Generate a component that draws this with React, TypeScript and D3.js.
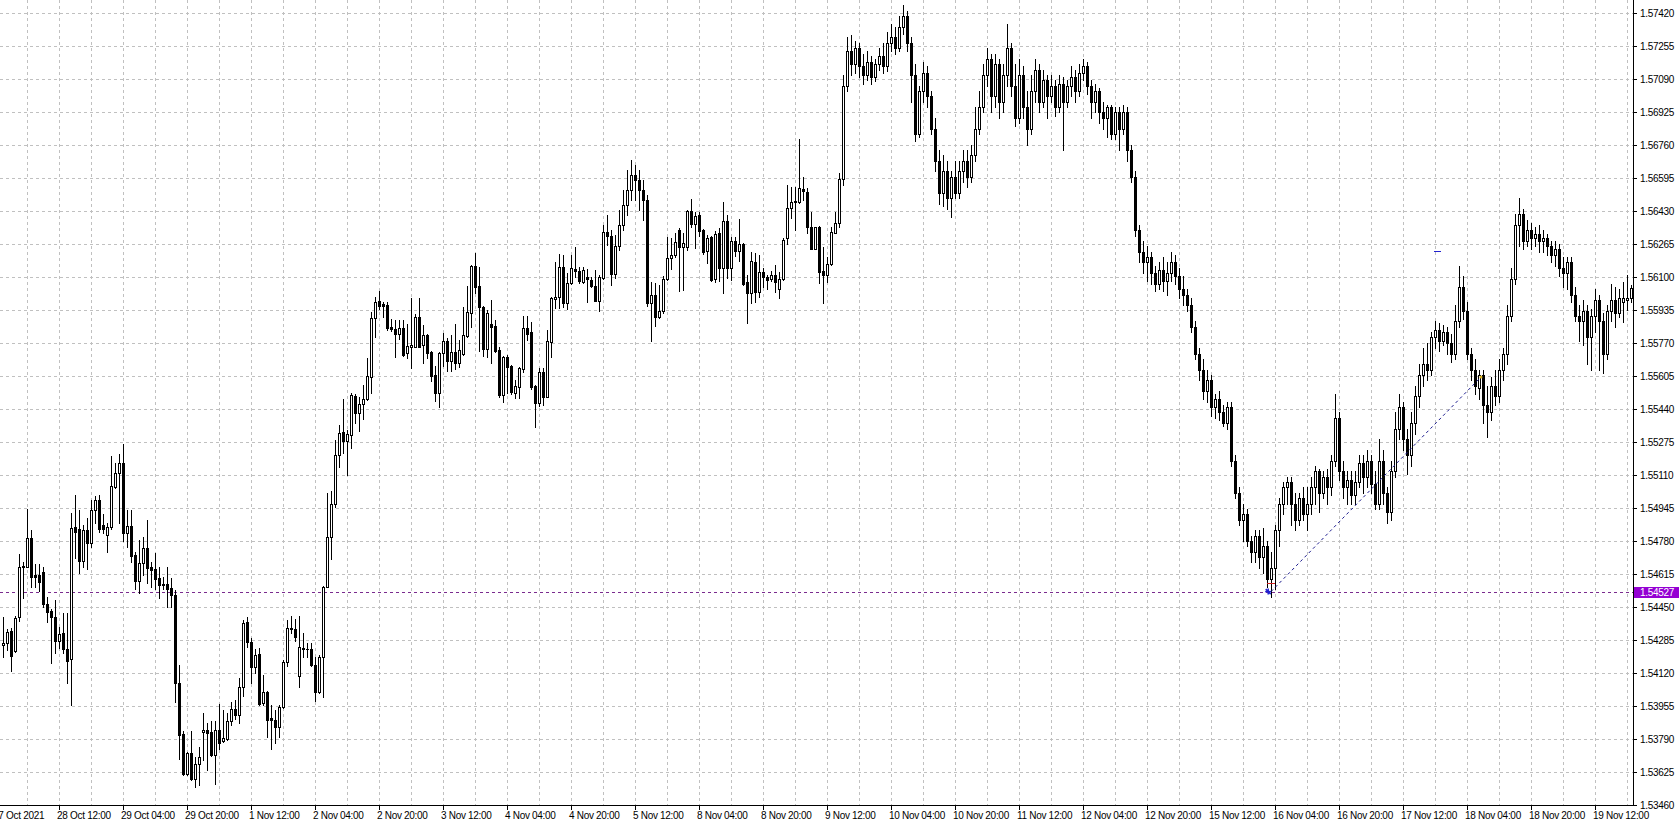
import React from "react";
import * as d3 from "d3";

// ---- values (H1 bars, 27 Oct – 19 Nov 2021) ----
// each bar: [open, high, low, close]
const bars27to29Oct: number[][] = [
  [1.54260, 1.54402, 1.54202, 1.54268], [1.54268, 1.54338, 1.54235, 1.54327], [1.54330, 1.54343, 1.54132, 1.54207],
  [1.54230, 1.54405, 1.54227, 1.54393], [1.54398, 1.54713, 1.54382, 1.54648], [1.54655, 1.54677, 1.54493, 1.54648],
  [1.54652, 1.54940, 1.54648, 1.54793], [1.54793, 1.54835, 1.54548, 1.54602], [1.54610, 1.54663, 1.54552, 1.54602],
  [1.54610, 1.54665, 1.54530, 1.54577], [1.54627, 1.54652, 1.54452, 1.54465], [1.54465, 1.54502, 1.54377, 1.54427],
  [1.54430, 1.54440, 1.54172, 1.54398], [1.54402, 1.54485, 1.54218, 1.54282], [1.54282, 1.54352, 1.54243, 1.54315],
  [1.54322, 1.54418, 1.54218, 1.54238], [1.54240, 1.54418, 1.54068, 1.54182], [1.54188, 1.54918, 1.53958, 1.54843],
  [1.54848, 1.55010, 1.54693, 1.54827], [1.54838, 1.54935, 1.54622, 1.54682], [1.54682, 1.54860, 1.54652, 1.54835],
  [1.54835, 1.54893, 1.54638, 1.54768], [1.54768, 1.54985, 1.54748, 1.54935], [1.54935, 1.55005, 1.54872, 1.54985],
  [1.54985, 1.55010, 1.54827, 1.54838], [1.54858, 1.54915, 1.54818, 1.54838], [1.54808, 1.54868, 1.54727, 1.54848],
  [1.54848, 1.55205, 1.54842, 1.55055], [1.55052, 1.55168, 1.55043, 1.55122], [1.55122, 1.55213, 1.54872, 1.55168],
  [1.55168, 1.55265, 1.54782, 1.54822], [1.54822, 1.54935, 1.54752, 1.54855], [1.54855, 1.54935, 1.54677, 1.54705],
  [1.54710, 1.54727, 1.54538, 1.54582], [1.54582, 1.54785, 1.54518, 1.54672], [1.54668, 1.54798, 1.54610, 1.54743],
  [1.54743, 1.54885, 1.54568, 1.54643], [1.54648, 1.54677, 1.54552, 1.54635], [1.54638, 1.54722, 1.54538, 1.54592],
  [1.54593, 1.54652, 1.54493, 1.54560], [1.54565, 1.54602, 1.54538, 1.54560], [1.54565, 1.54652, 1.54448, 1.54542],
  [1.54545, 1.54595, 1.54450, 1.54510], [1.54510, 1.54535, 1.53975, 1.54070],
];

const bars29Octto2Nov: number[][] = [
  [1.54068, 1.54160, 1.53688, 1.53810], [1.53815, 1.53832, 1.53610, 1.53615], [1.53615, 1.53727, 1.53610, 1.53718],
  [1.53718, 1.53832, 1.53585, 1.53588], [1.53588, 1.53702, 1.53548, 1.53665], [1.53665, 1.53752, 1.53560, 1.53698],
  [1.53823, 1.53918, 1.53685, 1.53835], [1.53835, 1.53872, 1.53635, 1.53818], [1.53827, 1.53882, 1.53705, 1.53710],
  [1.53710, 1.53882, 1.53565, 1.53835], [1.53835, 1.53965, 1.53738, 1.53772], [1.53782, 1.53935, 1.53777, 1.53793],
  [1.53788, 1.53922, 1.53785, 1.53882], [1.53882, 1.53977, 1.53860, 1.53938], [1.53938, 1.53985, 1.53888, 1.53910],
  [1.53910, 1.54093, 1.53872, 1.54048], [1.54048, 1.54385, 1.54005, 1.54368], [1.54377, 1.54398, 1.54252, 1.54277],
  [1.54277, 1.54293, 1.54068, 1.54148], [1.54148, 1.54238, 1.54122, 1.54210], [1.54215, 1.54243, 1.53960, 1.53965],
  [1.53968, 1.54110, 1.53960, 1.54023], [1.54023, 1.54032, 1.53802, 1.53885], [1.53893, 1.53960, 1.53738, 1.53885],
  [1.53885, 1.53935, 1.53768, 1.53848], [1.53848, 1.53960, 1.53802, 1.53948], [1.53948, 1.54185, 1.53943, 1.54177],
  [1.54177, 1.54385, 1.54155, 1.54343], [1.54340, 1.54405, 1.54318, 1.54343], [1.54338, 1.54388, 1.54282, 1.54298],
  [1.54105, 1.54405, 1.54048, 1.54248], [1.54238, 1.54318, 1.54202, 1.54243], [1.54240, 1.54268, 1.54198, 1.54238],
  [1.54238, 1.54268, 1.54155, 1.54160], [1.54160, 1.54202, 1.53982, 1.54027], [1.54027, 1.54210, 1.54018, 1.54202],
  [1.54202, 1.54555, 1.53998, 1.54552], [1.54552, 1.55018, 1.54548, 1.54802], [1.54802, 1.55032, 1.54688, 1.54965],
  [1.54965, 1.55285, 1.54950, 1.55210], [1.55210, 1.55360, 1.55150, 1.55320],
];

const bars2to4Nov: number[][] = [
  [1.55327, 1.55488, 1.55222, 1.55282], [1.55282, 1.55335, 1.55110, 1.55315], [1.55310, 1.55518, 1.55243, 1.55510],
  [1.55507, 1.55515, 1.55368, 1.55418], [1.55418, 1.55502, 1.55332, 1.55465], [1.55465, 1.55560, 1.55388, 1.55488],
  [1.55488, 1.55693, 1.55485, 1.55605], [1.55598, 1.55927, 1.55522, 1.55893], [1.55893, 1.56002, 1.55798, 1.55977],
  [1.55980, 1.56032, 1.55938, 1.55957], [1.55965, 1.55977, 1.55902, 1.55957], [1.55960, 1.55977, 1.55835, 1.55847],
  [1.55848, 1.55888, 1.55832, 1.55842], [1.55840, 1.55885, 1.55702, 1.55813], [1.55813, 1.55885, 1.55788, 1.55843],
  [1.55843, 1.55885, 1.55705, 1.55710], [1.55718, 1.55865, 1.55693, 1.55755], [1.55752, 1.55993, 1.55643, 1.55758],
  [1.55752, 1.55915, 1.55748, 1.55898], [1.55898, 1.55993, 1.55748, 1.55752], [1.55760, 1.55860, 1.55672, 1.55810],
  [1.55810, 1.55813, 1.55693, 1.55722], [1.55727, 1.55730, 1.55582, 1.55605], [1.55610, 1.55655, 1.55482, 1.55522],
  [1.55522, 1.55727, 1.55452, 1.55718], [1.55718, 1.55818, 1.55655, 1.55780], [1.55780, 1.55793, 1.55632, 1.55682],
  [1.55682, 1.55810, 1.55632, 1.55723], [1.55723, 1.55865, 1.55638, 1.55672], [1.55672, 1.55785, 1.55652, 1.55735],
  [1.55713, 1.55948, 1.55710, 1.55810], [1.55805, 1.56055, 1.55798, 1.55923], [1.55918, 1.56160, 1.55848, 1.56155],
  [1.56155, 1.56222, 1.56018, 1.56048], [1.56055, 1.56148, 1.55732, 1.55952], [1.55952, 1.55955, 1.55705, 1.55738],
  [1.55738, 1.55935, 1.55698, 1.55918], [1.55863, 1.55985, 1.55672, 1.55852], [1.55855, 1.55885, 1.55727, 1.55732],
  [1.55735, 1.55748, 1.55498, 1.55510], [1.55510, 1.55705, 1.55477, 1.55698], [1.55698, 1.55710, 1.55518, 1.55648],
  [1.55655, 1.55660, 1.55515, 1.55527],
];

const bars4to5Nov: number[][] = [
  [1.55522, 1.55585, 1.55493, 1.55555], [1.55552, 1.55652, 1.55493, 1.55647], [1.55638, 1.55905, 1.55627, 1.55843],
  [1.55843, 1.55905, 1.55785, 1.55815], [1.55827, 1.55877, 1.55538, 1.55548], [1.55555, 1.55560, 1.55348, 1.55472],
  [1.55472, 1.55643, 1.55455, 1.55623], [1.55623, 1.55643, 1.55460, 1.55502], [1.55502, 1.55835, 1.55498, 1.55780],
  [1.55773, 1.55998, 1.55702, 1.55993], [1.55992, 1.56177, 1.55943, 1.55998], [1.55998, 1.56215, 1.55943, 1.56148],
  [1.56148, 1.56210, 1.55952, 1.55968], [1.55972, 1.56118, 1.55938, 1.56068], [1.56068, 1.56210, 1.56065, 1.56143],
  [1.56140, 1.56252, 1.56102, 1.56130], [1.56130, 1.56148, 1.56072, 1.56082], [1.56077, 1.56148, 1.56072, 1.56135],
  [1.56098, 1.56138, 1.55977, 1.56088], [1.56085, 1.56102, 1.56048, 1.56055], [1.56055, 1.56135, 1.55982, 1.55982],
  [1.55982, 1.56110, 1.55932, 1.56098], [1.56093, 1.56360, 1.56088, 1.56325], [1.56325, 1.56410, 1.56260, 1.56305],
  [1.56305, 1.56335, 1.56060, 1.56115], [1.56115, 1.56310, 1.56095, 1.56255], [1.56255, 1.56435, 1.56235, 1.56360],
  [1.56360, 1.56535, 1.56335, 1.56460], [1.56460, 1.56635, 1.56410, 1.56535], [1.56535, 1.56685, 1.56485, 1.56610],
  [1.56610, 1.56660, 1.56485, 1.56585], [1.56585, 1.56635, 1.56435, 1.56535], [1.56535, 1.56585, 1.56385, 1.56485],
  [1.56485, 1.56510, 1.55955, 1.55970], [1.55972, 1.56077, 1.55782, 1.56010], [1.56010, 1.56068, 1.55855, 1.55898],
  [1.55898, 1.56060, 1.55893, 1.55932], [1.55932, 1.56105, 1.55918, 1.56088], [1.56088, 1.56302, 1.56085, 1.56193],
  [1.56193, 1.56293, 1.56138, 1.56210], [1.56210, 1.56318, 1.56202, 1.56277], [1.56335, 1.56345, 1.56032, 1.56250],
];

const bars8to9Nov: number[][] = [
  [1.56248, 1.56318, 1.56035, 1.56268], [1.56252, 1.56435, 1.56235, 1.56430], [1.56430, 1.56488, 1.56352, 1.56365],
  [1.56365, 1.56427, 1.56243, 1.56405], [1.56410, 1.56427, 1.56305, 1.56332], [1.56335, 1.56338, 1.56215, 1.56227],
  [1.56232, 1.56310, 1.56168, 1.56293], [1.56298, 1.56305, 1.56082, 1.56085], [1.56088, 1.56332, 1.56077, 1.56313],
  [1.56318, 1.56343, 1.56082, 1.56143], [1.56143, 1.56477, 1.56022, 1.56380], [1.56380, 1.56410, 1.56093, 1.56143],
  [1.56143, 1.56298, 1.56085, 1.56282], [1.56282, 1.56298, 1.56205, 1.56232], [1.56232, 1.56390, 1.56182, 1.56263],
  [1.56263, 1.56268, 1.56060, 1.56065], [1.56073, 1.56110, 1.55868, 1.56022], [1.56022, 1.56227, 1.55968, 1.56180],
  [1.56177, 1.56218, 1.55977, 1.56027], [1.56027, 1.56210, 1.56002, 1.56123], [1.56123, 1.56143, 1.56052, 1.56098],
  [1.56102, 1.56110, 1.56038, 1.56085], [1.56088, 1.56132, 1.56082, 1.56110], [1.56110, 1.56160, 1.56027, 1.56077],
  [1.56038, 1.56127, 1.55993, 1.56090], [1.56088, 1.56293, 1.56085, 1.56285], [1.56293, 1.56560, 1.56265, 1.56443],
  [1.56443, 1.56548, 1.56393, 1.56477], [1.56480, 1.56548, 1.56335, 1.56473], [1.56473, 1.56790, 1.56468, 1.56543],
  [1.56538, 1.56602, 1.56485, 1.56528], [1.56527, 1.56543, 1.56318, 1.56348], [1.56348, 1.56427, 1.56238, 1.56238],
  [1.56242, 1.56352, 1.56238, 1.56348], [1.56348, 1.56355, 1.56072, 1.56127], [1.56130, 1.56252, 1.55972, 1.56112],
  [1.56112, 1.56202, 1.56077, 1.56163], [1.56163, 1.56352, 1.56160, 1.56327], [1.56322, 1.56427, 1.56318, 1.56368],
  [1.56368, 1.56618, 1.56348, 1.56588], [1.56588, 1.57110, 1.56560, 1.57057],
];

const bars9to10Nov: number[][] = [
  [1.57057, 1.57298, 1.57030, 1.57228], [1.57228, 1.57308, 1.57110, 1.57164], [1.57164, 1.57281, 1.57121, 1.57244],
  [1.57244, 1.57271, 1.57099, 1.57153], [1.57153, 1.57217, 1.57067, 1.57110], [1.57110, 1.57228, 1.57083, 1.57174],
  [1.57174, 1.57206, 1.57067, 1.57099], [1.57099, 1.57190, 1.57078, 1.57164], [1.57164, 1.57244, 1.57137, 1.57206],
  [1.57206, 1.57271, 1.57121, 1.57153], [1.57153, 1.57324, 1.57131, 1.57271], [1.57271, 1.57367, 1.57228, 1.57298],
  [1.57298, 1.57351, 1.57217, 1.57244], [1.57244, 1.57405, 1.57228, 1.57351], [1.57351, 1.57458, 1.57314, 1.57405],
  [1.57405, 1.57431, 1.57228, 1.57271], [1.57271, 1.57298, 1.56976, 1.57110], [1.57110, 1.57164, 1.56778, 1.56815],
  [1.56815, 1.57057, 1.56799, 1.57030], [1.57030, 1.57174, 1.56976, 1.57121], [1.57121, 1.57153, 1.56949, 1.57003],
  [1.57003, 1.57030, 1.56815, 1.56842], [1.56842, 1.56896, 1.56628, 1.56682], [1.56682, 1.56736, 1.56467, 1.56521],
  [1.56521, 1.56708, 1.56457, 1.56628], [1.56628, 1.56682, 1.56440, 1.56494], [1.56494, 1.56628, 1.56398, 1.56601],
  [1.56601, 1.56682, 1.56494, 1.56521], [1.56521, 1.56682, 1.56494, 1.56628], [1.56628, 1.56736, 1.56574, 1.56682],
];

const bars10to11Nov: number[][] = [
  [1.56682, 1.56736, 1.56548, 1.56601], [1.56601, 1.56762, 1.56574, 1.56708], [1.56708, 1.56949, 1.56682, 1.56842],
  [1.56842, 1.57030, 1.56815, 1.56949], [1.56949, 1.57164, 1.56923, 1.57110], [1.57110, 1.57244, 1.57057, 1.57190],
  [1.57190, 1.57217, 1.56923, 1.57003], [1.57003, 1.57217, 1.56949, 1.57164], [1.57164, 1.57190, 1.56896, 1.56976],
  [1.56976, 1.57164, 1.56923, 1.57110], [1.57110, 1.57367, 1.57057, 1.57244], [1.57244, 1.57271, 1.57003, 1.57057],
  [1.57057, 1.57164, 1.56853, 1.56896], [1.56896, 1.57190, 1.56869, 1.57110], [1.57110, 1.57153, 1.56896, 1.56949],
  [1.56949, 1.57030, 1.56762, 1.56842], [1.56842, 1.57110, 1.56815, 1.57030], [1.57030, 1.57190, 1.56976, 1.57137],
  [1.57137, 1.57164, 1.56923, 1.56976], [1.56976, 1.57137, 1.56949, 1.57083], [1.57083, 1.57110, 1.56896, 1.57003],
  [1.57003, 1.57110, 1.56976, 1.57057], [1.57057, 1.57083, 1.56906, 1.56949], [1.56949, 1.57110, 1.56923, 1.57067],
  [1.57067, 1.57099, 1.56736, 1.56976], [1.56976, 1.57083, 1.56949, 1.57057], [1.57057, 1.57153, 1.57003, 1.57099],
  [1.57099, 1.57137, 1.56976, 1.57030], [1.57030, 1.57164, 1.57003, 1.57121], [1.57121, 1.57190, 1.57083, 1.57153],
];

const bars11to12Nov: number[][] = [
  [1.57153, 1.57174, 1.57013, 1.57057], [1.57057, 1.57083, 1.56896, 1.56976], [1.56976, 1.57067, 1.56923, 1.57030],
  [1.57030, 1.57046, 1.56869, 1.56923], [1.56923, 1.56976, 1.56842, 1.56896], [1.56896, 1.56960, 1.56799, 1.56949],
  [1.56949, 1.56960, 1.56789, 1.56815], [1.56815, 1.56949, 1.56789, 1.56923], [1.56923, 1.56949, 1.56736, 1.56842],
  [1.56842, 1.56960, 1.56815, 1.56923], [1.56923, 1.56949, 1.56682, 1.56736], [1.56736, 1.56762, 1.56574, 1.56601],
  [1.56601, 1.56628, 1.56307, 1.56333], [1.56333, 1.56360, 1.56173, 1.56226], [1.56226, 1.56280, 1.56119, 1.56173],
  [1.56173, 1.56253, 1.56081, 1.56199], [1.56199, 1.56226, 1.56065, 1.56119], [1.56119, 1.56157, 1.56028, 1.56065],
  [1.56065, 1.56173, 1.56039, 1.56135], [1.56135, 1.56199, 1.56028, 1.56081], [1.56081, 1.56173, 1.56012, 1.56119],
  [1.56119, 1.56226, 1.56081, 1.56173], [1.56173, 1.56210, 1.56065, 1.56103], [1.56103, 1.56146, 1.55996, 1.56039],
  [1.56039, 1.56103, 1.55958, 1.56012], [1.56012, 1.56039, 1.55932, 1.55958], [1.55958, 1.55996, 1.55825, 1.55851],
  [1.55851, 1.55878, 1.55691, 1.55717], [1.55717, 1.55744, 1.55584, 1.55637], [1.55637, 1.55691, 1.55492, 1.55530],
];

const bars15to16Nov: number[][] = [
  [1.55530, 1.55637, 1.55476, 1.55584], [1.55584, 1.55610, 1.55407, 1.55450], [1.55450, 1.55514, 1.55396, 1.55492],
  [1.55492, 1.55530, 1.55385, 1.55423], [1.55423, 1.55460, 1.55353, 1.55369], [1.55369, 1.55476, 1.55342, 1.55450],
  [1.55450, 1.55476, 1.55155, 1.55182], [1.55182, 1.55209, 1.54994, 1.55021], [1.55021, 1.55048, 1.54860, 1.54887],
  [1.54887, 1.54967, 1.54780, 1.54914], [1.54914, 1.54941, 1.54753, 1.54780], [1.54780, 1.54807, 1.54673, 1.54726],
  [1.54726, 1.54833, 1.54673, 1.54807], [1.54807, 1.54833, 1.54646, 1.54700], [1.54700, 1.54844, 1.54619, 1.54753],
  [1.54753, 1.54780, 1.54550, 1.54592], [1.54592, 1.54726, 1.54501, 1.54646], [1.54646, 1.54860, 1.54539, 1.54833],
  [1.54833, 1.54994, 1.54753, 1.54967], [1.54967, 1.55075, 1.54914, 1.55048], [1.55048, 1.55101, 1.54967, 1.55075],
  [1.55075, 1.55101, 1.54860, 1.54967], [1.54967, 1.55021, 1.54833, 1.54887], [1.54887, 1.55021, 1.54860, 1.54994],
  [1.54994, 1.55048, 1.54887, 1.54914], [1.54914, 1.55048, 1.54833, 1.54967], [1.54967, 1.55101, 1.54914, 1.55048],
  [1.55048, 1.55155, 1.54967, 1.55128], [1.55128, 1.55139, 1.54925, 1.55021], [1.55021, 1.55128, 1.54994, 1.55101],
  [1.55101, 1.55139, 1.54967, 1.55048], [1.55048, 1.55209, 1.55010, 1.55182], [1.55182, 1.55514, 1.55155, 1.55396],
  [1.55396, 1.55423, 1.55085, 1.55128], [1.55128, 1.55182, 1.54994, 1.55048], [1.55048, 1.55128, 1.54967, 1.55085],
  [1.55085, 1.55128, 1.54967, 1.55010], [1.55010, 1.55128, 1.54967, 1.55075], [1.55075, 1.55209, 1.55048, 1.55171],
  [1.55171, 1.55209, 1.55021, 1.55101],
];

const bars17to18Nov: number[][] = [
  [1.55101, 1.55235, 1.55048, 1.55182], [1.55182, 1.55209, 1.55021, 1.55064], [1.55064, 1.55128, 1.54941, 1.54967],
  [1.54967, 1.55289, 1.54941, 1.55182], [1.55182, 1.55235, 1.54967, 1.55021], [1.55021, 1.55048, 1.54871, 1.54925],
  [1.54925, 1.55182, 1.54887, 1.55128], [1.55128, 1.55423, 1.55101, 1.55342], [1.55342, 1.55514, 1.55289, 1.55450],
  [1.55450, 1.55476, 1.55235, 1.55289], [1.55289, 1.55342, 1.55117, 1.55209], [1.55209, 1.55423, 1.55155, 1.55369],
  [1.55369, 1.55557, 1.55316, 1.55503], [1.55503, 1.55664, 1.55450, 1.55610], [1.55610, 1.55744, 1.55557, 1.55664],
  [1.55664, 1.55771, 1.55584, 1.55637], [1.55637, 1.55825, 1.55610, 1.55798], [1.55798, 1.55878, 1.55744, 1.55835],
  [1.55835, 1.55868, 1.55728, 1.55782], [1.55782, 1.55862, 1.55760, 1.55825], [1.55825, 1.55851, 1.55717, 1.55771],
  [1.55771, 1.55814, 1.55674, 1.55717], [1.55717, 1.55958, 1.55691, 1.55878], [1.55878, 1.56157, 1.55851, 1.56049],
  [1.56049, 1.56103, 1.55889, 1.55932], [1.55932, 1.55974, 1.55691, 1.55717], [1.55717, 1.55744, 1.55584, 1.55637],
  [1.55637, 1.55691, 1.55514, 1.55557], [1.55546, 1.55637, 1.55492, 1.55610], [1.55610, 1.55637, 1.55369, 1.55460],
];

const bars18to19Nov: number[][] = [
  [1.55460, 1.55557, 1.55300, 1.55423], [1.55423, 1.55600, 1.55385, 1.55557], [1.55557, 1.55637, 1.55460, 1.55503],
  [1.55503, 1.55691, 1.55476, 1.55637], [1.55637, 1.55744, 1.55584, 1.55717], [1.55717, 1.55958, 1.55664, 1.55905],
  [1.55905, 1.56146, 1.55878, 1.56092], [1.56092, 1.56414, 1.56065, 1.56360], [1.56360, 1.56494, 1.56253, 1.56414],
  [1.56414, 1.56440, 1.56242, 1.56280], [1.56280, 1.56387, 1.56253, 1.56333], [1.56333, 1.56371, 1.56242, 1.56296],
  [1.56296, 1.56349, 1.56253, 1.56317], [1.56317, 1.56360, 1.56226, 1.56280], [1.56280, 1.56333, 1.56226, 1.56296],
  [1.56296, 1.56317, 1.56210, 1.56253], [1.56253, 1.56280, 1.56173, 1.56210], [1.56210, 1.56280, 1.56157, 1.56242],
  [1.56242, 1.56264, 1.56103, 1.56146], [1.56146, 1.56199, 1.56049, 1.56119], [1.56119, 1.56199, 1.56039, 1.56173],
  [1.56173, 1.56199, 1.55974, 1.56012], [1.56012, 1.56049, 1.55878, 1.55905], [1.55905, 1.55958, 1.55782, 1.55878],
  [1.55878, 1.55985, 1.55760, 1.55932], [1.55932, 1.55958, 1.55664, 1.55798], [1.55798, 1.55942, 1.55637, 1.55905],
  [1.55905, 1.56039, 1.55825, 1.55985], [1.55985, 1.56012, 1.55637, 1.55878], [1.55878, 1.55921, 1.55621, 1.55717],
  [1.55717, 1.55958, 1.55691, 1.55932], [1.55932, 1.56065, 1.55878, 1.55985], [1.55985, 1.56049, 1.55851, 1.55921],
  [1.55921, 1.56039, 1.55899, 1.55996], [1.55977, 1.56077, 1.55877, 1.55995], [1.55985, 1.56110, 1.55935, 1.55997],
  [1.55995, 1.56060, 1.55975, 1.56045],
];

const priceTicks = [
  1.5742, 1.57255, 1.5709, 1.56925, 1.5676, 1.56595, 1.5643, 1.56265, 1.561, 1.55935, 1.5577, 1.55605, 1.5544,
  1.55275, 1.5511, 1.54945, 1.5478, 1.54615, 1.5445, 1.54285, 1.5412, 1.53955, 1.5379, 1.53625, 1.5346,
];

const timeLabels = [
  "27 Oct 2021", "28 Oct 12:00", "29 Oct 04:00", "29 Oct 20:00", "1 Nov 12:00", "2 Nov 04:00", "2 Nov 20:00",
  "3 Nov 12:00", "4 Nov 04:00", "4 Nov 20:00", "5 Nov 12:00", "8 Nov 04:00", "8 Nov 20:00", "9 Nov 12:00",
  "10 Nov 04:00", "10 Nov 20:00", "11 Nov 12:00", "12 Nov 04:00", "12 Nov 20:00", "15 Nov 12:00",
  "16 Nov 04:00", "16 Nov 20:00", "17 Nov 12:00", "18 Nov 04:00", "18 Nov 20:00", "19 Nov 12:00",
];
const firstLabelBar = -2;
const barsPerLabel = 16;
const barsPerGrid = 8;

const bidPrice = 1.54527;
const trendStart = { bar: 317, price: 1.54527 };
const trendEnd = { bar: 369.5, price: 1.556 };
const arrowMark = { bar: 316.3, price: 1.54527 };
const stopMark = { bar: 317, price: 1.54571 };
const orderMark = { bar: 358.5, price: 1.56232 };

const allBars = [
  ...bars27to29Oct, ...bars29Octto2Nov, ...bars2to4Nov, ...bars4to5Nov, ...bars8to9Nov,
  ...bars9to10Nov, ...bars10to11Nov, ...bars11to12Nov, ...bars15to16Nov, ...bars17to18Nov, ...bars18to19Nov,
];
const totalBars = allBars.length;

const W = 1679;
const H = 826;
const plotRight = 1633;
const plotBottom = 805;
const FONT = "Tahoma, 'Liberation Sans', Arial, sans-serif";

export default function App() {
  const x = d3.scaleLinear().domain([0, 407]).range([3, 3 + 4 * 407]);
  const y = d3.scaleLinear().domain([1.5346, 1.5742]).range([plotBottom, 13]);
  const py = (p: number) => Math.round(y(p));

  const gridBars: number[] = [];
  for (let b = firstLabelBar; b < totalBars; b += barsPerGrid) gridBars.push(b);

  const ax = x(arrowMark.bar), ay = y(arrowMark.price);

  return (
    <div style={{ position: "absolute", left: 0, top: 0, width: W, height: H, background: "#fff" }}>
      <svg width={W} height={H} style={{ display: "block" }} shapeRendering="crispEdges">
        <rect x={0} y={0} width={W} height={H} fill="#ffffff" />
        <g>
          {priceTicks.map((p, k) => (
            <line key={"hg" + k} x1={0} x2={plotRight} y1={py(p) + 0.5} y2={py(p) + 0.5}
              stroke="#c0c0c0" strokeDasharray="3,3" />
          ))}
          {gridBars.map((b) => (
            <line key={"vg" + b} x1={Math.round(x(b)) + 0.5} x2={Math.round(x(b)) + 0.5} y1={0} y2={plotBottom}
              stroke="#c0c0c0" strokeDasharray="3,3" />
          ))}
        </g>
        {/* bid line */}
        <line x1={0} x2={plotRight} y1={py(bidPrice) + 0.5} y2={py(bidPrice) + 0.5} stroke="#7a2b8e"
          strokeDasharray="3,3" />
        {/* candles */}
        <g>
          {allBars.map((b, i) => {
            const [o, h, l, c] = b;
            const cx = Math.round(x(i));
            const yo = py(o), yc = py(c), yh = py(h), yl = py(l);
            const top = Math.min(yo, yc), bot = Math.max(yo, yc);
            const bull = c >= o;
            return (
              <g key={i}>
                <line x1={cx + 0.5} x2={cx + 0.5} y1={yh} y2={yl + 1} stroke="#000" />
                {bot - top < 1 ? (
                  <line x1={cx - 1} x2={cx + 2} y1={top + 0.5} y2={top + 0.5} stroke="#000" />
                ) : (
                  <rect x={cx - 0.5} y={top + 0.5} width={2} height={bot - top} fill={bull ? "#fff" : "#000"}
                    stroke="#000" />
                )}
              </g>
            );
          })}
        </g>
        {/* trend line and trade marks */}
        <line x1={x(trendStart.bar)} y1={y(trendStart.price)} x2={x(trendEnd.bar)} y2={y(trendEnd.price)}
          stroke="#1c1c8f" strokeDasharray="3,3" shapeRendering="auto" />
        <line x1={x(stopMark.bar) - 4} x2={x(stopMark.bar) + 4} y1={py(stopMark.price) + 0.5}
          y2={py(stopMark.price) + 0.5} stroke="#d02020" />
        <g stroke="#2020d0" strokeWidth={1.5} shapeRendering="auto">
          <line x1={ax - 3} x2={ax + 3} y1={ay} y2={ay} />
          <line x1={ax} x2={ax} y1={ay - 3} y2={ay + 3} />
          <line x1={ax - 2.5} x2={ax + 2.5} y1={ay - 2.5} y2={ay + 2.5} />
        </g>
        <line x1={x(orderMark.bar) - 3} x2={x(orderMark.bar) + 4} y1={py(orderMark.price) + 0.5}
          y2={py(orderMark.price) + 0.5} stroke="#2020d0" />
        <circle cx={x(trendEnd.bar)} cy={y(trendEnd.price)} r={1.5} fill="#d8b020" shapeRendering="auto" />
        {/* axes frame */}
        <line x1={plotRight + 0.5} x2={plotRight + 0.5} y1={0} y2={plotBottom + 1} stroke="#000" />
        <line x1={0} x2={plotRight + 1} y1={plotBottom + 0.5} y2={plotBottom + 0.5} stroke="#000" />
        {priceTicks.map((p, k) => (
          <g key={"pt" + k}>
            <line x1={plotRight + 1} x2={plotRight + 4} y1={py(p) + 0.5} y2={py(p) + 0.5} stroke="#000" />
            <text x={1640} y={py(p) + 4} fontFamily={FONT} fontSize={10} letterSpacing={-0.3} fill="#000">
              {p.toFixed(5)}
            </text>
          </g>
        ))}
        {timeLabels.map((t, k) => {
          const b = firstLabelBar + k * barsPerLabel;
          const tx = Math.round(x(b));
          return (
            <g key={"tl" + k}>
              <line x1={tx + 0.5} x2={tx + 0.5} y1={plotBottom + 1} y2={plotBottom + 5} stroke="#000" />
              <text x={tx - 2} y={819} fontFamily={FONT} fontSize={10} letterSpacing={-0.3} fill="#000">
                {t}
              </text>
            </g>
          );
        })}
        {/* bid label */}
        <rect x={1634} y={py(bidPrice) - 5} width={45} height={11} fill="#9400d3" />
        <text x={1640} y={py(bidPrice) + 4} fontFamily={FONT} fontSize={10} letterSpacing={-0.3} fill="#fff">
          {bidPrice.toFixed(5)}
        </text>
      </svg>
    </div>
  );
}
